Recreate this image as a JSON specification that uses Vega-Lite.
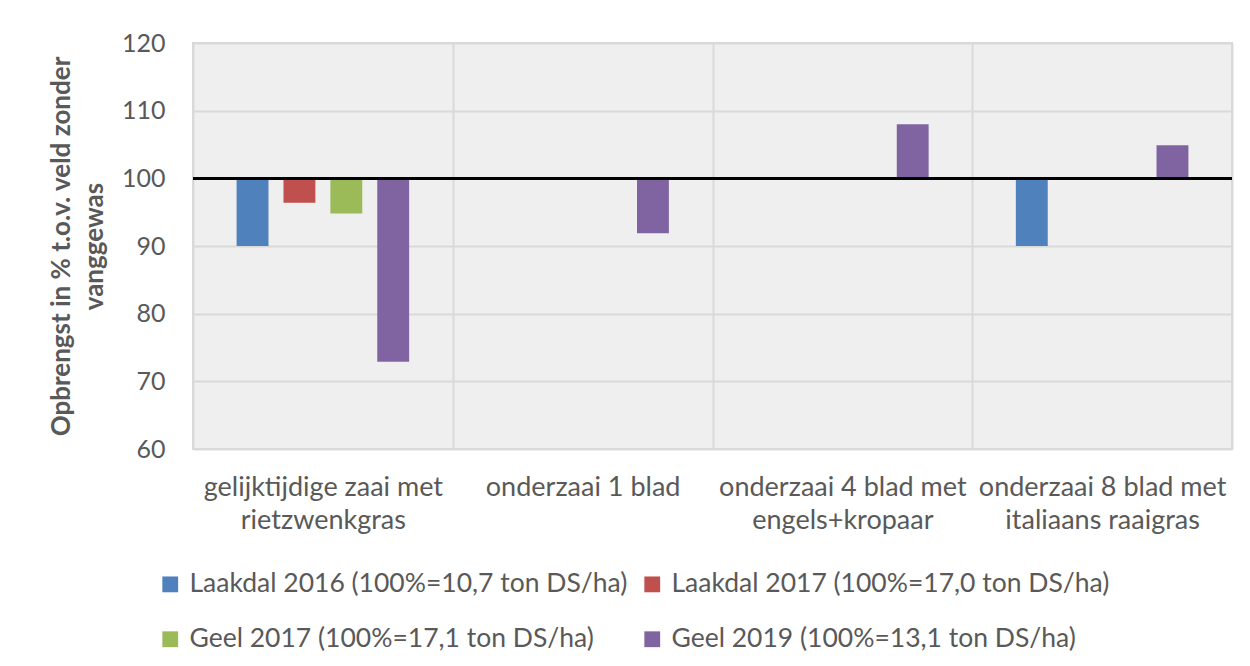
{
  "$schema": "https://vega.github.io/schema/vega-lite/v6.json",
  "autosize": "none",
  "width": 1039,
  "height": 406,
  "padding": {"left": 193, "top": 43, "right": 18, "bottom": 217},
  "background": "white",
  "config": {
    "font": "Lato",
    "view": {"fill": "#efefef", "stroke": "#d9d9d9", "strokeWidth": 2}
  },
  "data": {
    "values": [
      {"category": "gelijktijdige zaai met rietzwenkgras", "series": "Laakdal 2016 (100%=10,7 ton DS/ha)", "value": 90},
      {"category": "gelijktijdige zaai met rietzwenkgras", "series": "Laakdal 2017 (100%=17,0 ton DS/ha)", "value": 96.4},
      {"category": "gelijktijdige zaai met rietzwenkgras", "series": "Geel 2017 (100%=17,1 ton DS/ha)", "value": 94.8},
      {"category": "gelijktijdige zaai met rietzwenkgras", "series": "Geel 2019 (100%=13,1 ton DS/ha)", "value": 72.9},
      {"category": "onderzaai 1 blad", "series": "Geel 2019 (100%=13,1 ton DS/ha)", "value": 91.9},
      {"category": "onderzaai 4 blad met engels+kropaar", "series": "Geel 2019 (100%=13,1 ton DS/ha)", "value": 108},
      {"category": "onderzaai 8 blad met italiaans raaigras", "series": "Laakdal 2016 (100%=10,7 ton DS/ha)", "value": 90},
      {"category": "onderzaai 8 blad met italiaans raaigras", "series": "Geel 2019 (100%=13,1 ton DS/ha)", "value": 104.9}
    ]
  },
  "layer": [
    {
      "mark": {"type": "bar"},
      "encoding": {
        "x": {
          "field": "category",
          "type": "nominal",
          "sort": ["gelijktijdige zaai met rietzwenkgras", "onderzaai 1 blad", "onderzaai 4 blad met engels+kropaar", "onderzaai 8 blad met italiaans raaigras"],
          "scale": {"paddingInner": 0, "paddingOuter": 0},
          "axis": {
            "title": null,
            "labelAngle": 0,
            "labelFontSize": 27,
            "labelColor": "#595959",
            "labelPadding": 25,
            "labelLineHeight": 33,
            "labelBaseline": "top",
            "labelLimit": 400,
            "ticks": false,
            "domain": false,
            "grid": true,
            "tickBand": "extent",
            "gridColor": "#d9d9d9",
            "gridWidth": 2,
            "labelExpr": "datum.label == 'gelijktijdige zaai met rietzwenkgras' ? ['gelijktijdige zaai met', 'rietzwenkgras'] : datum.label == 'onderzaai 4 blad met engels+kropaar' ? ['onderzaai 4 blad met', 'engels+kropaar'] : datum.label == 'onderzaai 8 blad met italiaans raaigras' ? ['onderzaai 8 blad met', 'italiaans raaigras'] : datum.label"
          }
        },
        "xOffset": {
          "field": "series",
          "type": "nominal",
          "sort": ["Laakdal 2016 (100%=10,7 ton DS/ha)", "Laakdal 2017 (100%=17,0 ton DS/ha)", "Geel 2017 (100%=17,1 ton DS/ha)", "Geel 2019 (100%=13,1 ton DS/ha)"],
          "scale": {"paddingInner": 0.32, "paddingOuter": 0.93}
        },
        "y": {
          "field": "value",
          "type": "quantitative",
          "scale": {"domain": [60, 120], "nice": false, "zero": false},
          "axis": {
            "values": [60, 70, 80, 90, 100, 110, 120],
            "title": ["Opbrengst in % t.o.v. veld zonder", "vanggewas"],
            "titleFontSize": 26,
            "titleFontWeight": "bold",
            "titleColor": "#595959",
            "titlePadding": 14,
            "titleLineHeight": 33,
            "labelFontSize": 25,
            "labelColor": "#595959",
            "labelPadding": 28,
            "ticks": false,
            "domain": false,
            "gridColor": "#d9d9d9",
            "gridWidth": 2
          }
        },
        "y2": {"datum": 100},
        "color": {
          "field": "series",
          "type": "nominal",
          "sort": ["Laakdal 2016 (100%=10,7 ton DS/ha)", "Laakdal 2017 (100%=17,0 ton DS/ha)", "Geel 2017 (100%=17,1 ton DS/ha)", "Geel 2019 (100%=13,1 ton DS/ha)"],
          "scale": {
            "domain": ["Laakdal 2016 (100%=10,7 ton DS/ha)", "Laakdal 2017 (100%=17,0 ton DS/ha)", "Geel 2017 (100%=17,1 ton DS/ha)", "Geel 2019 (100%=13,1 ton DS/ha)"],
            "range": ["#4f81bd", "#c0504d", "#9bbb59", "#8064a2"]
          },
          "legend": {
            "title": null,
            "orient": "none",
            "direction": "horizontal",
            "legendX": -36,
            "legendY": 528,
            "columns": 2,
            "symbolType": "square",
            "symbolSize": 250,
            "symbolStrokeWidth": 0,
            "labelFontSize": 26.5,
            "labelColor": "#595959",
            "labelOffset": 6,
            "labelLimit": 600,
            "rowPadding": 28,
            "columnPadding": 11
          }
        }
      }
    },
    {
      "mark": {"type": "rule", "color": "black", "strokeWidth": 2.5},
      "encoding": {"y": {"datum": 100}}
    }
  ]
}
